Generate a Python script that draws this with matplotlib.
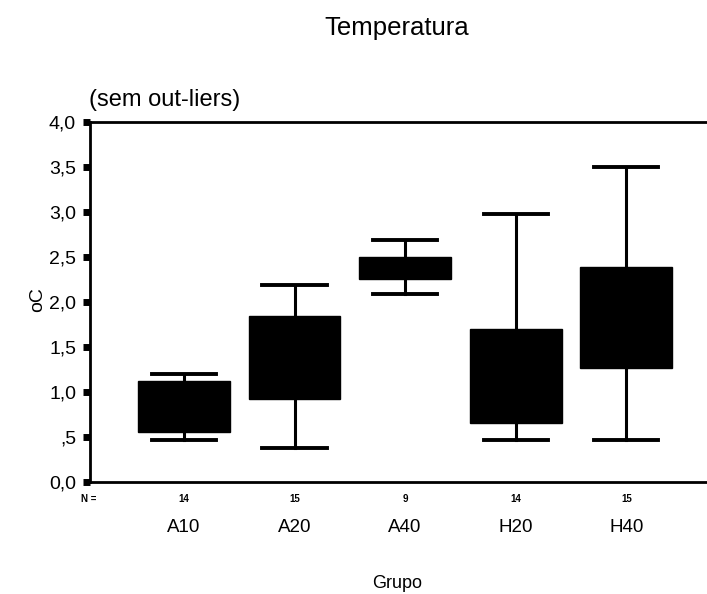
import matplotlib
matplotlib.use("Agg")
import matplotlib.pyplot as plt

plt.rcParams['font.family'] = ['Liberation Sans', 'DejaVu Sans']

# box statistics (no outliers shown)
groups = ['A10', 'A20', 'A40', 'H20', 'H40']
counts = [14, 15, 9, 14, 15]
whisker_low = [0.47, 0.38, 2.09, 0.47, 0.47]
q1 = [0.56, 0.92, 2.26, 0.66, 1.27]
q3 = [1.12, 1.84, 2.50, 1.70, 2.39]
whisker_high = [1.20, 2.19, 2.69, 2.98, 3.50]
yticks = [0.0, 0.5, 1.0, 1.5, 2.0, 2.5, 3.0, 3.5, 4.0]
ytick_labels = ['0,0', ',5', '1,0', '1,5', '2,0', '2,5', '3,0', '3,5', '4,0']

fig = plt.figure(figsize=(7.07, 5.94), dpi=100)
ax = fig.add_axes([90 / 707, 112 / 594, 617 / 707, 360 / 594])

stats = []
for g, lo, a, b, hi in zip(groups, whisker_low, q1, q3, whisker_high):
    stats.append({'label': g, 'whislo': lo, 'q1': a, 'med': a, 'q3': b,
                  'whishi': hi, 'fliers': []})

positions = list(range(1, len(groups) + 1))
ax.bxp(stats, positions=positions, widths=0.83, patch_artist=True,
       showfliers=False,
       boxprops=dict(facecolor='black', edgecolor='black', linewidth=1),
       whiskerprops=dict(color='black', linewidth=2.2),
       capprops=dict(color='black', linewidth=2.8),
       medianprops=dict(linewidth=0),
       capwidths=0.58)

ax.set_xlim(0.15, 5.73)
ax.set_ylim(0, 4.0)

ax.spines['right'].set_visible(False)
for s in ['left', 'top', 'bottom']:
    ax.spines[s].set_linewidth(2)

ax.set_yticks(yticks)
ax.set_yticklabels(ytick_labels, fontsize=14)
ax.tick_params(axis='y', direction='out', length=5, width=5, pad=5)

ax.set_xticks(positions)
ax.set_xticklabels([''] * len(groups))
ax.tick_params(axis='x', length=0)

# N row and group labels under the axis
for p, n, g in zip(positions, counts, groups):
    ax.annotate(str(n), xy=(p, 0), xycoords=('data', 'axes fraction'),
                xytext=(0, -17), textcoords='offset pixels',
                ha='center', va='center', fontsize=7, fontweight='bold')
    ax.annotate(g, xy=(p, 0), xycoords=('data', 'axes fraction'),
                xytext=(0, -45), textcoords='offset pixels',
                ha='center', va='center', fontsize=13.5)
ax.annotate('N =', xy=(0, 0), xycoords='axes fraction',
            xytext=(-1, -17), textcoords='offset pixels',
            ha='center', va='center', fontsize=7, fontweight='bold')

fig.text(397 / 707, 1 - 35 / 594, 'Temperatura', ha='center', va='baseline',
         fontsize=18.5)
fig.text(89 / 707, 1 - 106 / 594, '(sem out-liers)', ha='left',
         va='baseline', fontsize=17)
fig.text(38 / 707, 1 - 300 / 594, 'oC', ha='center', va='center',
         fontsize=14, rotation=90)
fig.text(397 / 707, 1 - 583 / 594, 'Grupo', ha='center', va='center',
         fontsize=13)

fig.savefig('out.png', dpi=100)
